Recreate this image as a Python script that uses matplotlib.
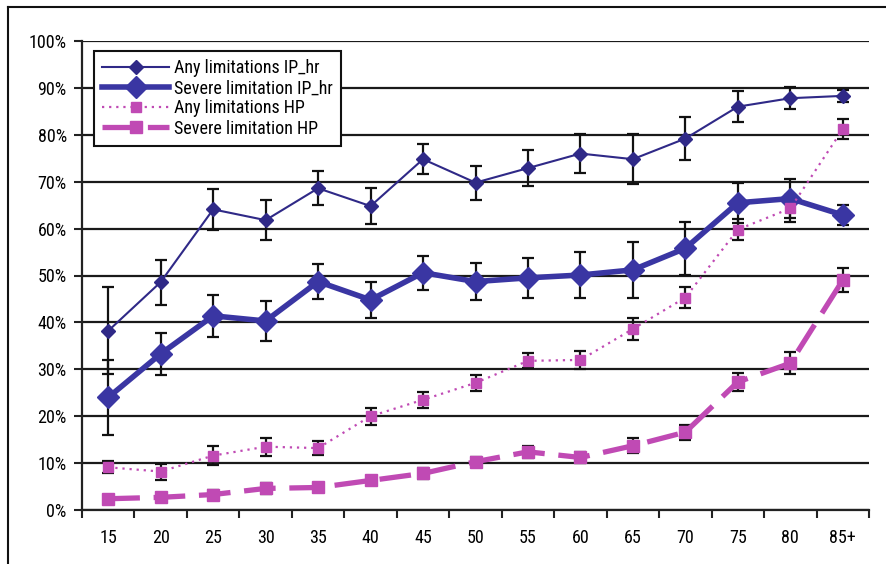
import numpy as np
import matplotlib
matplotlib.use('Agg')
import matplotlib.pyplot as plt
from matplotlib.lines import Line2D
from matplotlib.ticker import FixedLocator, PercentFormatter

plt.rcParams['font.family'] = ['Roboto Condensed', 'Liberation Sans', 'DejaVu Sans']

# age groups and percentages with half-width of the error bars
ages = ['15', '20', '25', '30', '35', '40', '45', '50', '55', '60', '65', '70', '75', '80', '85+']
any_ip = [38.2, 48.6, 64.1, 61.8, 68.6, 64.8, 74.8, 69.8, 72.9, 76.0, 74.8, 79.2, 86.0, 87.8, 88.3]
any_ip_err = [9.3, 4.8, 4.3, 4.3, 3.6, 3.8, 3.2, 3.6, 3.8, 4.1, 5.3, 4.5, 3.3, 2.3, 1.3]
sev_ip = [24.0, 33.3, 41.4, 40.3, 48.7, 44.8, 50.6, 48.7, 49.5, 50.1, 51.2, 55.8, 65.5, 66.4, 62.9]
sev_ip_err = [8.0, 4.5, 4.5, 4.3, 3.8, 3.8, 3.6, 3.9, 4.3, 4.9, 6.0, 5.6, 4.3, 4.2, 2.2]
any_hp = [9.1, 8.2, 11.6, 13.5, 13.2, 20.0, 23.5, 27.1, 31.8, 32.0, 38.6, 45.3, 59.8, 64.3, 81.2]
any_hp_err = [1.3, 1.7, 2.0, 1.9, 1.5, 1.8, 1.7, 1.7, 1.6, 2.0, 2.4, 2.3, 2.3, 2.9, 2.2]
sev_hp = [2.4, 2.7, 3.3, 4.6, 4.8, 6.3, 7.8, 10.3, 12.4, 11.2, 13.7, 16.6, 27.3, 31.3, 49.0]
sev_hp_err = [0.8, 0.9, 1.0, 1.1, 1.0, 1.0, 1.2, 1.0, 1.3, 1.2, 1.6, 1.6, 2.0, 2.4, 2.6]

NAVY = '#2f2987'
BLUE = '#3a36a3'
MAG = '#c04ab4'

fig = plt.figure(figsize=(8.86, 5.64), dpi=100)
ax = fig.add_axes([82/886, 54/564, 787/886, 469/564])
x = np.arange(len(ages))

series = [
    (any_ip, any_ip_err, 'Any limitations IP_hr',
     dict(color=NAVY, lw=1.5, ls='-', marker='D', ms=7)),
    (sev_ip, sev_ip_err, 'Severe limitation IP_hr',
     dict(color=BLUE, lw=4.0, ls='-', marker='D', ms=11)),
    (any_hp, any_hp_err, 'Any limitations HP',
     dict(color=MAG, lw=1.6, ls=(0, (1, 2.2)), marker='s', ms=7.5)),
    (sev_hp, sev_hp_err, 'Severe limitation HP',
     dict(color=MAG, lw=3.8, ls=(0, (6, 2.6)), marker='s', ms=8)),
]
for vals, err, label, st in series:
    ax.errorbar(x, vals, yerr=err, fmt='none', ecolor='#111111', elinewidth=1.6,
                capsize=4, capthick=1.6, zorder=3)
    ax.plot(x, vals, label=label, color=st['color'], lw=st['lw'], ls=st['ls'],
            marker=st['marker'], ms=st['ms'], mfc=st['color'], mec=st['color'], zorder=4)

ax.set_xlim(-0.5, len(ages) - 0.5)
ax.set_ylim(0, 100)
ax.set_xticks(x)
ax.set_xticklabels(ages)
ax.xaxis.set_minor_locator(FixedLocator(np.arange(-0.5, len(ages), 1.0)))
ax.tick_params(axis='x', which='major', length=0, pad=14, labelsize=13)
ax.tick_params(axis='x', which='minor', length=6, width=1.5, direction='out', color='#222222')
ax.set_yticks(np.arange(0, 101, 10))
ax.yaxis.set_major_formatter(PercentFormatter(decimals=0))
ax.tick_params(axis='y', length=6, width=1.5, direction='out', pad=5, labelsize=13, color='#222222')

ax.yaxis.grid(True, color='#1a1a1a', lw=1.6)
ax.set_axisbelow(True)
for s in ['top', 'right']:
    ax.spines[s].set_visible(False)
for s in ['left', 'bottom']:
    ax.spines[s].set_linewidth(1.6)
    ax.spines[s].set_color('#222222')

leg = ax.legend(loc='upper left', bbox_to_anchor=(12/787, 1 - 10/469), borderaxespad=0,
                fontsize=13, frameon=True, fancybox=False, edgecolor='#111111',
                framealpha=1, handlelength=3.7, handletextpad=0.3, labelspacing=0.12,
                borderpad=0.45)
leg.get_frame().set_linewidth(1.5)
leg.set_zorder(6)

# surrounding frame (left and top edges)
fig.add_artist(Line2D([7.5/886, 7.5/886], [0, 1 - 7/564], color='#111111', lw=1.5))
fig.add_artist(Line2D([7.5/886, 1], [1 - 7/564, 1 - 7/564], color='#111111', lw=1.5))

fig.savefig('out.png', dpi=100, facecolor='white')
